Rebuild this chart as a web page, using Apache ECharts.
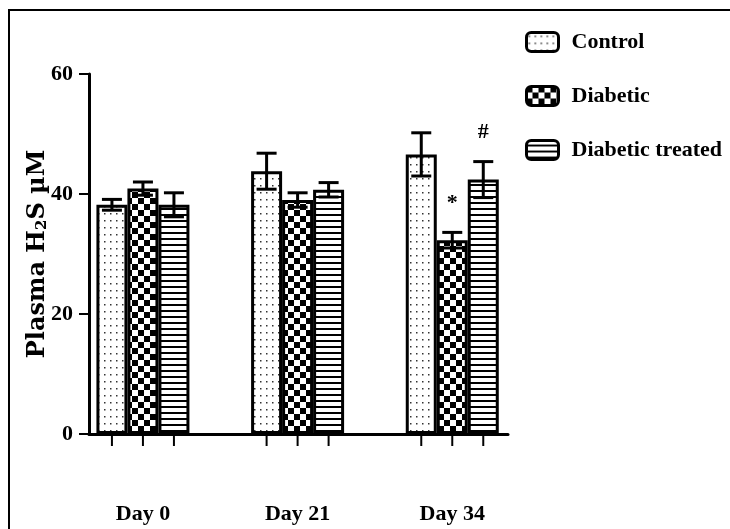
<!DOCTYPE html>
<html>
<head>
<meta charset="utf-8">
<script src="https://cdn.jsdelivr.net/npm/echarts@6/dist/echarts.min.js"></script>
<style>
  html, body { margin: 0; padding: 0; background: #fff; }
  #chart { width: 730px; height: 529px; }
</style>
</head>
<body>
<div id="chart"></div>
<script>
// Plasma H2S (µM), mean ± SEM per group
const categories = ['Day 0', 'Day 21', 'Day 34'];
const seriesNames = ['Control', 'Diabetic', 'Diabetic treated'];
const controlMean = [38.2, 43.8, 46.6];
const controlSem = [0.9, 3.0, 3.6];
const diabeticMean = [40.9, 39.0, 32.3];
const diabeticSem = [1.1, 1.2, 1.3];
const treatedMean = [38.2, 40.7, 42.4];
const treatedSem = [2.0, 1.2, 3.0];
// significance marks drawn above the error bars
const controlNotes = ['', '', ''];
const diabeticNotes = ['', '', '*'];
const treatedNotes = ['', '', '#'];
const yTickValues = [0, 20, 40, 60];

const SERIF = 'Liberation Serif, Times New Roman, serif';
const BAR_W = 31;          // bars in a group sit edge to edge
const BAR_BORDER = 3;
const BAR_STEP = BAR_W;    // centre-to-centre distance (barGap 0)

// --- fill patterns -------------------------------------------------------
function makeTile(w, h, draw) {
  const c = document.createElement('canvas');
  c.width = w; c.height = h;
  const ctx = c.getContext('2d');
  ctx.fillStyle = '#fff';
  ctx.fillRect(0, 0, w, h);
  ctx.fillStyle = '#000';
  draw(ctx);
  return { image: c, repeat: 'repeat' };
}
const dotFill = makeTile(6, 7, ctx => { ctx.fillStyle = '#333'; ctx.fillRect(2, 3, 1.5, 1.5); });
const checkFill = makeTile(12, 12, ctx => { ctx.fillRect(0, 0, 6, 6); ctx.fillRect(6, 6, 6, 6); });
const lineFill = makeTile(6, 6, ctx => { ctx.fillRect(0, 4, 6, 2); });
const fills = [dotFill, checkFill, lineFill];

const means = [controlMean, diabeticMean, treatedMean];
const sems = [controlSem, diabeticSem, treatedSem];
const notes = [controlNotes, diabeticNotes, treatedNotes];

// error bars, per-bar axis ticks and significance marks
function errorRenderer(pos) {
  return function (params, api) {
    const cat = api.value(0);
    const mean = api.value(1);
    const sem = api.value(2);
    const base = api.coord([cat, 0]);
    const x = base[0] + (pos - 1) * BAR_STEP;
    const top = api.coord([cat, mean + sem])[1];
    const bot = api.coord([cat, mean - sem])[1];
    const stroke = { stroke: '#000', lineWidth: 3 };
    const children = [
      { type: 'line', shape: { x1: x, y1: top, x2: x, y2: bot }, style: stroke },
      { type: 'line', shape: { x1: x - 10, y1: top, x2: x + 10, y2: top }, style: stroke },
      { type: 'line', shape: { x1: x - 10, y1: bot, x2: x + 10, y2: bot }, style: stroke },
      { type: 'line', shape: { x1: x, y1: base[1] + 1, x2: x, y2: base[1] + 12 },
        style: { stroke: '#000', lineWidth: 2 } }
    ];
    const note = notes[pos][params.dataIndex];
    if (note) {
      children.push({
        type: 'text',
        style: {
          text: note, x: x, y: top - 29,
          align: 'center', verticalAlign: 'middle',
          fill: '#000', font: 'bold 22px ' + SERIF
        }
      });
    }
    return { type: 'group', children: children };
  };
}

const barSeries = seriesNames.map((name, i) => ({
  name: name,
  type: 'bar',
  xAxisIndex: 0,
  yAxisIndex: 0,
  barWidth: BAR_W,
  barGap: '0%',
  itemStyle: { color: fills[i], borderColor: '#000', borderWidth: BAR_BORDER },
  emphasis: { disabled: true },
  data: means[i]
}));

const errSeries = seriesNames.map((name, i) => ({
  name: name + ' SEM',
  type: 'custom',
  xAxisIndex: 0,
  yAxisIndex: 0,
  z: 5,
  silent: true,
  renderItem: errorRenderer(i),
  data: means[i].map((m, k) => [k, m, sems[i][k]])
}));

const chart = echarts.init(document.getElementById('chart'), null, { renderer: 'canvas' });
chart.setOption({
  animation: false,
  backgroundColor: '#fff',
  graphic: [{
    type: 'rect',
    shape: { x: 9, y: 10, width: 760, height: 560 },
    style: { fill: 'none', stroke: '#000', lineWidth: 2 },
    silent: true
  }],
  legend: {
    data: seriesNames,
    orient: 'vertical',
    left: 525,
    top: 30,
    padding: 0,
    itemWidth: 32,
    itemHeight: 19,
    itemGap: 30,
    selectedMode: false,
    formatter: name => '{g|}' + name,
    itemStyle: { borderColor: '#000', borderWidth: 3 },
    textStyle: {
      fontFamily: SERIF, fontWeight: 'bold', fontSize: 22, color: '#000', lineHeight: 24,
      rich: { g: { width: 8 } }
    }
  },
  grid: [
    // bar placement grid
    { left: 65.6, width: 464, top: 74, height: 360 },
    // visible axes grid
    { left: 89, width: 419, top: 74, height: 360 }
  ],
  xAxis: [
    {
      type: 'category', gridIndex: 0, data: categories,
      axisLine: { show: false }, axisTick: { show: false },
      axisLabel: { margin: 69, fontFamily: SERIF, fontWeight: 'bold', fontSize: 22, color: '#000' }
    },
    {
      type: 'value', gridIndex: 1, min: 0, max: 1,
      axisLine: { show: true, onZero: false, lineStyle: { color: '#000', width: 3 } },
      axisTick: { show: false }, axisLabel: { show: false }, splitLine: { show: false }
    }
  ],
  yAxis: [
    { type: 'value', gridIndex: 0, min: 0, max: 60, show: false },
    {
      type: 'value', gridIndex: 1, min: yTickValues[0], max: yTickValues[yTickValues.length - 1],
      interval: yTickValues[1] - yTickValues[0],
      name: 'Plasma H{sub|2}S µM',
      nameLocation: 'middle',
      nameGap: 39,
      nameMoveOverlap: false,
      nameTextStyle: {
        fontFamily: 'DejaVu Serif, serif', fontWeight: 'bold', fontSize: 24, color: '#000',
        rich: { sub: { fontFamily: 'DejaVu Serif, serif', fontWeight: 'bold', fontSize: 15, verticalAlign: 'bottom', padding: [10, 0, 0, 0], color: '#000' } }
      },
      axisLine: { show: true, onZero: false, lineStyle: { color: '#000', width: 3 } },
      axisTick: { show: true, length: 10, lineStyle: { color: '#000', width: 2 } },
      axisLabel: { margin: 16, fontFamily: SERIF, fontWeight: 'bold', fontSize: 22, color: '#000' },
      splitLine: { show: false }
    }
  ],
  series: barSeries.concat(errSeries)
});
</script>
</body>
</html>
